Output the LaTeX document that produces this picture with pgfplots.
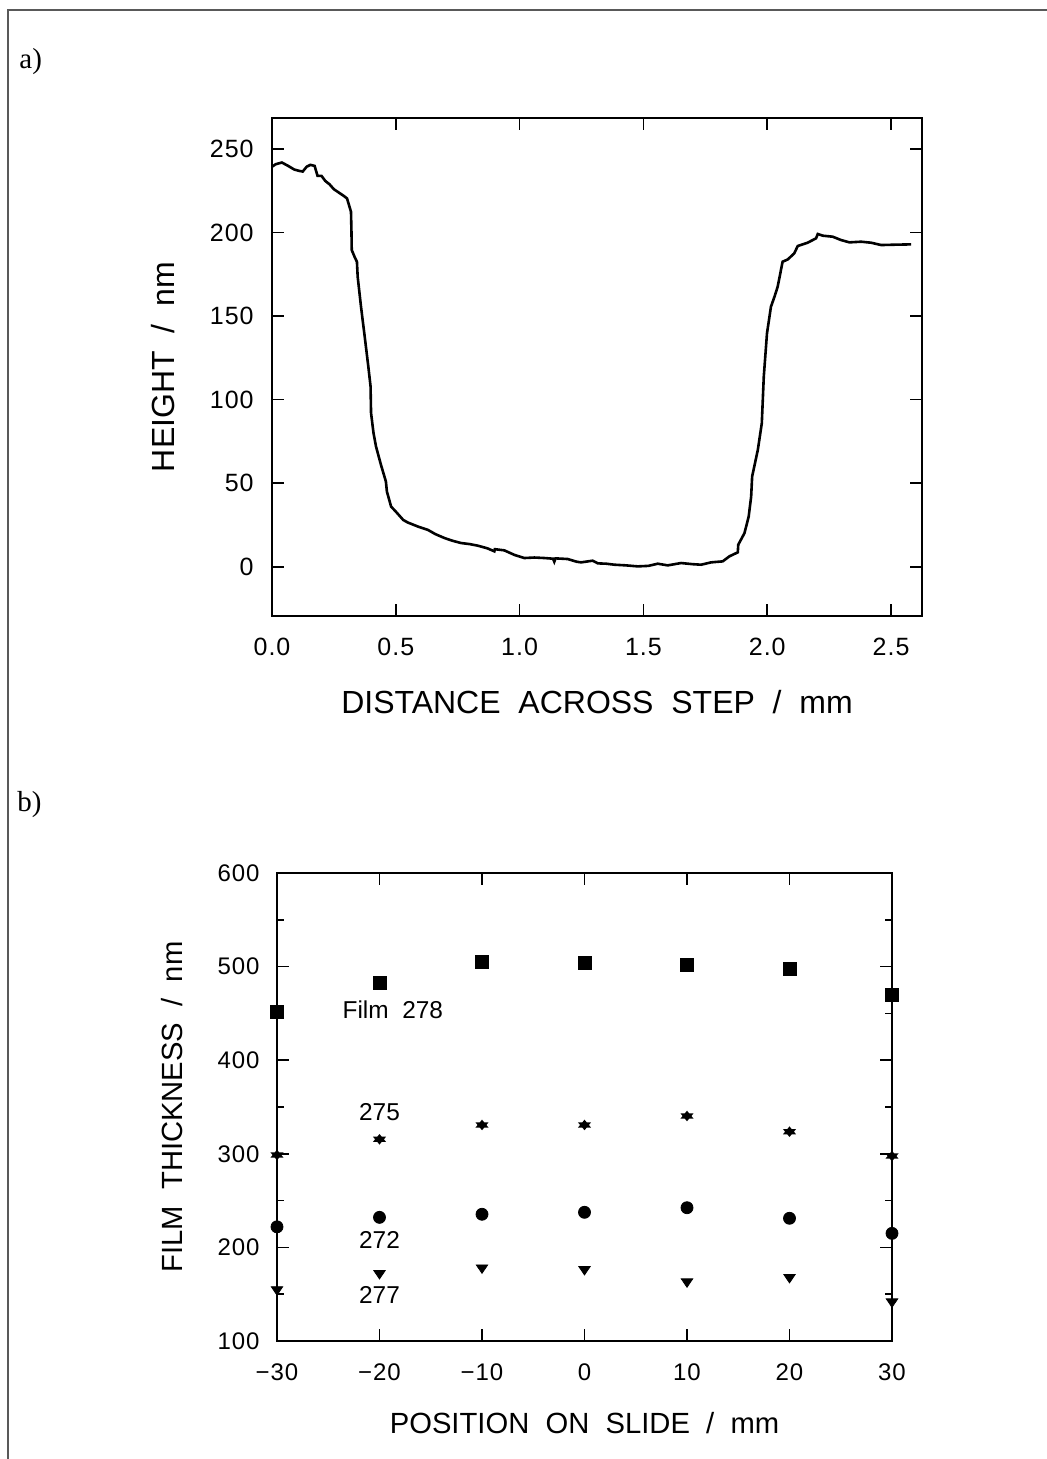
\documentclass[border=0pt]{standalone}
\usepackage{fontspec}
\setmainfont{Liberation Sans}
\newfontfamily\seriffont{Liberation Serif}
\newfontfamily\widesans[WordSpace=2]{Liberation Sans}
\newfontfamily\ticksans[LetterSpace=4]{Liberation Sans}
\usepackage{pgfplots}
\pgfplotsset{compat=1.18}
\pgfdeclareplotmark{hexstar}{%
  \pgfpathmoveto{\pgfqpointpolar{90}{\pgfplotmarksize}}%
  \pgfpathlineto{\pgfqpointpolar{210}{\pgfplotmarksize}}%
  \pgfpathlineto{\pgfqpointpolar{330}{\pgfplotmarksize}}%
  \pgfpathclose
  \pgfpathmoveto{\pgfqpointpolar{270}{\pgfplotmarksize}}%
  \pgfpathlineto{\pgfqpointpolar{30}{\pgfplotmarksize}}%
  \pgfpathlineto{\pgfqpointpolar{150}{\pgfplotmarksize}}%
  \pgfpathclose
  \pgfusepathqfill}
\newcommand{\labA}{\widesans\fontsize{16}{18}\selectfont}
\newcommand{\labB}{\widesans\fontsize{14.6}{17}\selectfont}
\newcommand{\tickA}{\ticksans\fontsize{12.5}{14}\selectfont}
\newcommand{\tickB}{\ticksans\fontsize{12}{14}\selectfont}
\newcommand{\annB}{\widesans\fontsize{12.2}{14}\selectfont}
\begin{document}
\begin{tikzpicture}
\useasboundingbox (0,0) rectangle (523.5pt,729.5pt);
\draw[line width=1pt, black!65] (4pt,0) -- (4pt,724.5pt) -- (523.5pt,724.5pt);
\node[anchor=west, font=\seriffont\fontsize{14.5}{16}\selectfont, inner sep=0pt] at (9.5pt,698.5pt) {a)};
\node[anchor=west, font=\seriffont\fontsize{14.5}{16}\selectfont, inner sep=0pt] at (8.5pt,327pt) {b)};
\begin{axis}[
  at={(136pt,421.5pt)}, anchor=south west,
  scale only axis, width=325pt, height=248.85pt,
  xmin=0, xmax=2.625, ymin=-29.5, ymax=268.5,
  xtick={0,0.5,1,1.5,2,2.5}, xticklabels={0.0,0.5,1.0,1.5,2.0,2.5},
  ytick={0,50,100,150,200,250}, yticklabels={0,50,100,150,200,250},
  tick align=inside, major tick length=6pt,
  tick style={line width=0.8pt, black},
  axis line style={line width=1.2pt},
  ticklabel style={font=\tickA},
  xticklabel style={inner sep=0pt, yshift=-11pt},
  yticklabel style={inner sep=0pt, xshift=-9pt},
  xlabel={DISTANCE ACROSS STEP / mm},
  ylabel={HEIGHT / nm},
  xlabel style={at={(axis description cs:0.5,-0.1727)}, anchor=center, font=\labA},
  ylabel style={at={(axis description cs:-0.168,0.5)}, anchor=center, font=\labA},
]
\addplot[black, line width=1.3pt, mark=none] coordinates {
(0.000,239.5) (0.015,241) (0.040,242) (0.065,240) (0.090,237.8) (0.110,237)
(0.124,236.6) (0.140,239.5) (0.155,240.6) (0.172,240) (0.180,236) (0.184,234)
(0.200,234) (0.215,231) (0.232,229) (0.250,226) (0.265,224.5) (0.290,222)
(0.303,220.5) (0.312,216) (0.319,212.5) (0.321,200) (0.322,189.6) (0.335,185)
(0.343,182.6) (0.346,173.6) (0.360,155) (0.375,137) (0.389,119.8) (0.398,108)
(0.400,92) (0.410,80) (0.420,72) (0.440,61) (0.460,51) (0.464,45) (0.481,36)
(0.500,33) (0.530,28) (0.548,26.5) (0.590,24) (0.629,22.1) (0.660,19.5)
(0.696,17.2) (0.730,15.5) (0.763,14.2) (0.800,13.5) (0.831,12.6) (0.870,11)
(0.898,9.2) (0.900,10.5) (0.938,9.8) (0.980,7) (1.019,5.2) (1.060,5.5)
(1.100,5.2) (1.135,4.8) (1.140,3) (1.145,5) (1.194,4.6) (1.230,3) (1.248,2.6)
(1.290,3.5) (1.295,3.6) (1.316,2) (1.350,1.8) (1.383,1.2) (1.430,0.8)
(1.477,0.2) (1.520,0.5) (1.558,1.8) (1.598,0.8) (1.652,2.2) (1.700,1.5)
(1.733,1.2) (1.773,2.6) (1.820,3.2) (1.847,6.2) (1.881,8.6) (1.883,13.2)
(1.908,20.1) (1.925,30) (1.935,42) (1.939,54) (1.962,70) (1.978,85.9)
(1.986,113.8) (1.999,139.8) (2.015,155.7) (2.030,162) (2.042,167.6)
(2.062,182.6) (2.083,184) (2.109,187.6) (2.123,192) (2.163,194) (2.197,196.6)
(2.204,199.2) (2.224,198.2) (2.264,197.6) (2.298,195.6) (2.332,194.2)
(2.379,194.6) (2.419,194) (2.460,192.6) (2.513,192.8) (2.581,193)
};
\end{axis}
\begin{axis}[
  at={(138.5pt,59pt)}, anchor=south west,
  scale only axis, width=307.5pt, height=234pt,
  xmin=-30, xmax=30, ymin=100, ymax=600,
  xtick={-30,-20,-10,0,10,20,30}, xticklabels={−30,−20,−10,0,10,20,30},
  ytick={100,200,300,400,500,600}, yticklabels={100,200,300,400,500,600},
  minor ytick={150,250,350,450,550},
  tick align=inside, major tick length=6pt, minor tick length=3.5pt,
  tick style={line width=0.8pt, black},
  axis line style={line width=1.2pt},
  ticklabel style={font=\tickB},
  xticklabel style={inner sep=0pt, yshift=-11pt},
  yticklabel style={inner sep=0pt, xshift=-8.5pt},
  xlabel={POSITION ON SLIDE / mm},
  ylabel={FILM THICKNESS / nm},
  xlabel style={at={(axis description cs:0.5,-0.175)}, anchor=center, font=\labB},
  ylabel style={at={(axis description cs:-0.170,0.5)}, anchor=center, font=\labB},
  clip=false,
]
\addplot[only marks, mark=square*, mark size=3.25pt, black] coordinates {
(-30,451.5) (-20,482.5) (-10,504.9) (0,503.8) (10,501.7) (20,497.4) (30,469.7)};
\addplot[only marks, mark=hexstar, mark size=3.3pt, mark options={xscale=1.15, yscale=0.8}, black] coordinates {
(-30,298.7) (-20,315.5) (-10,330.8) (0,330.8) (10,340.4) (20,323.6) (30,297.6)};
\addplot[only marks, mark=*, mark size=3pt, black] coordinates {
(-30,222) (-20,232.1) (-10,235.4) (0,237.5) (10,242.4) (20,231.1) (30,215)};
\addplot[only marks, mark=triangle*, mark size=3.3pt, mark options={rotate=180, yscale=0.85}, black] coordinates {
(-30,155) (-20,172.3) (-10,178.3) (0,176.6) (10,163.4) (20,168.1) (30,142)};
\node[font=\annB] at (axis cs:-18.7,453.6) {Film 278};
\node[font=\annB] at (axis cs:-20,344.7) {275};
\node[font=\annB] at (axis cs:-20,208) {272};
\node[font=\annB] at (axis cs:-20,149) {277};
\end{axis}
\end{tikzpicture}
\end{document}
